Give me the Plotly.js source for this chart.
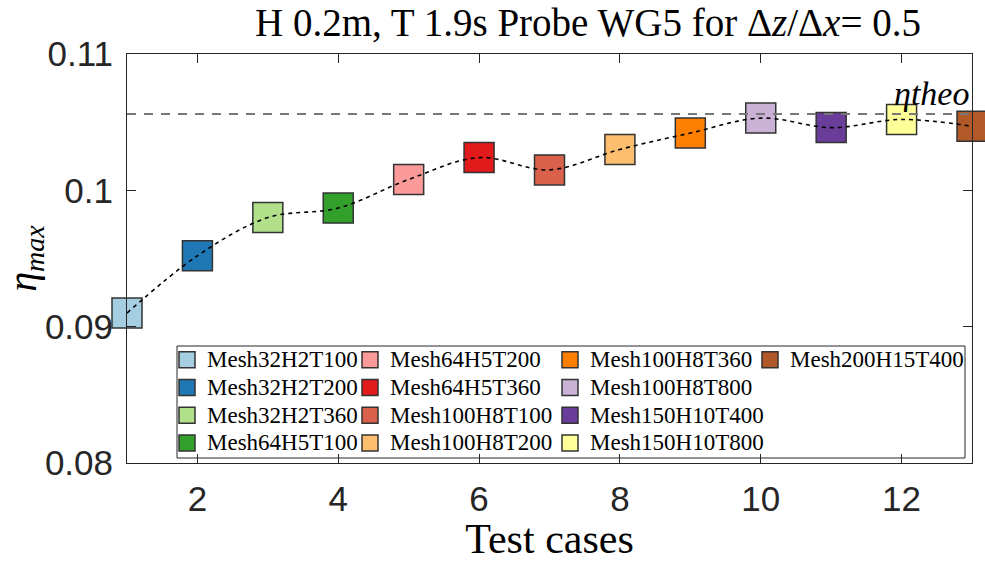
<!DOCTYPE html>
<html><head><meta charset="utf-8">
<script src="https://cdn.plot.ly/plotly-3.0.1.min.js"></script>
<style>body{margin:0;background:#fff}#chart{width:985px;height:562px}</style>
</head><body><div id="chart"></div>
<script>
// ---- data ----
const cases = [1,2,3,4,5,6,7,8,9,10,11,12,13];
const etaMax = [0.0910,0.0952,0.0980,0.0987,0.1008,0.1024,0.1015,0.1030,0.1042,0.1053,0.1046,0.1052,0.1047];
const caseNames = ['Mesh32H2T100','Mesh32H2T200','Mesh32H2T360','Mesh64H5T100','Mesh64H5T200','Mesh64H5T360',
  'Mesh100H8T100','Mesh100H8T200','Mesh100H8T360','Mesh100H8T800','Mesh150H10T400','Mesh150H10T800','Mesh200H15T400'];
const caseColors = ['#a6cee3','#1f78b4','#b2df8a','#33a02c','#fb9a99','#e31a1c','#d9604a','#fdbf6f','#ff7f00','#cab2d6','#6a3d9a','#ffff99','#b15928'];
const etaTheo = 0.1056;
const theoX = [1,13];
const yTicks = [0.08,0.09,0.1,0.11];
const yTickText = ['0.08','0.09','0.1','0.11'];
const xTicks = [2,4,6,8,10,12];

// ---- layout helpers ----
const L = 127, R = 972, T = 54, B = 463, W = 985, H = 562;
const px = v => (v - L) / (R - L);
const py = v => (B - v) / (B - T);
const serif = 'Liberation Serif, Times New Roman, serif';
const sans = 'Liberation Sans, Arial, Helvetica, sans-serif';
const legendNames = ['legend','legend2','legend3','legend4'];

const traces = cases.map((c, i) => ({
  x: [c], y: [etaMax[i]], type: 'scatter', mode: 'markers',
  name: '<span style="font-size:23px">' + caseNames[i] + '</span>',
  legend: legendNames[Math.floor(i / 4)], cliponaxis: false,
  marker: {symbol: 'square', size: 30, color: caseColors[i], line: {color: '#333', width: 1.5}},
  hoverinfo: 'skip'
}));
traces.push({x: cases, y: etaMax, type: 'scatter', mode: 'lines', showlegend: false, cliponaxis: false,
  line: {color: '#000', width: 1.6, dash: '4px,4px', shape: 'spline', smoothing: 1}, hoverinfo: 'skip'});
traces.push({x: theoX, y: [etaTheo, etaTheo], type: 'scatter', mode: 'lines', showlegend: false,
  line: {color: '#777', width: 2.2, dash: '9px,8px'}, hoverinfo: 'skip'});

const legendX = [167, 350, 550, 750];
const legendBase = {bgcolor: 'rgba(0,0,0,0)', borderwidth: 0, font: {family: serif, size: 19, color: '#000'},
  xref: 'paper', yref: 'paper', xanchor: 'left', yanchor: 'top', orientation: 'v', tracegroupgap: 0, itemclick: false};
const layout = {
  width: W, height: H,
  margin: {l: L, r: W - R, t: T, b: H - B},
  paper_bgcolor: '#fff', plot_bgcolor: '#fff',
  title: {text: 'H 0.2m, T 1.9s Probe WG5 for Δ<i>z</i>/Δ<i>x</i>= 0.5', font: {family: serif, size: 39, color: '#000'},
    xref: 'paper', x: px(588), xanchor: 'center', yref: 'container', y: 1 - 22 / H, yanchor: 'middle'},
  xaxis: {range: [1, 13], tickvals: xTicks, ticks: 'inside', ticklen: 9, tickcolor: '#262626', mirror: 'ticks',
    showline: true, linecolor: '#262626', linewidth: 1, showgrid: false, zeroline: false,
    tickfont: {family: sans, size: 35, color: '#262626'}, ticklabelstandoff: 5,
    title: {text: 'Test cases', font: {family: serif, size: 42, color: '#000'}, standoff: 2}},
  yaxis: {range: [0.08, 0.11], tickvals: yTicks, ticktext: yTickText, ticks: 'inside', ticklen: 9, tickcolor: '#262626', mirror: 'ticks',
    showline: true, linecolor: '#262626', linewidth: 1, showgrid: false, zeroline: false,
    tickfont: {family: sans, size: 35, color: '#262626'}, ticklabelstandoff: 6,
    title: {text: '<i>η</i><sub><i>max</i></sub>', font: {family: serif, size: 40, color: '#000'}, standoff: 6}},
  showlegend: true,
  shapes: [{type: 'rect', xref: 'paper', yref: 'paper', x0: px(177), x1: px(965), y0: py(458), y1: py(346),
    fillcolor: '#fff', line: {color: '#262626', width: 1}, layer: 'below'}],
  annotations: [{xref: 'x', yref: 'y', x: 12.43, y: etaTheo, text: '<i>η</i><i>theo</i>', showarrow: false,
    xanchor: 'center', yanchor: 'bottom', yshift: 0, font: {family: serif, size: 34, color: '#000'}}]
};
legendNames.forEach((nm, k) => {
  layout[nm] = Object.assign({}, legendBase, {x: px(legendX[k]), y: py(341)});
});
Plotly.newPlot('chart', traces, layout, {displayModeBar: false, staticPlot: true});
</script>
</body></html>
